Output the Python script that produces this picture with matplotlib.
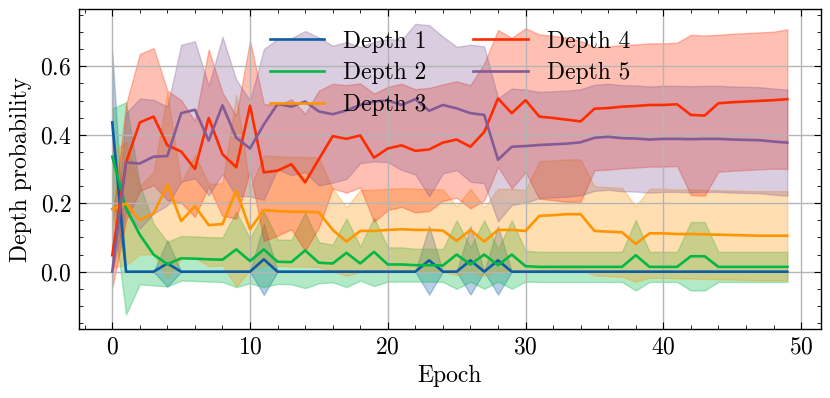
import matplotlib
matplotlib.use('Agg')
import matplotlib.pyplot as plt
import numpy as np
from matplotlib.ticker import MultipleLocator, AutoMinorLocator

epochs = list(range(50))
labels = ["Depth 1", "Depth 2", "Depth 3", "Depth 4", "Depth 5"]
colors = ["#0C5DA5", "#00B945", "#FF9500", "#FF2C00", "#845B97"]

depth1_mean = [0.436, 0, 0, 0, 0.024, 0, 0, 0, 0, 0,
               0, 0.036, 0, 0, 0, 0, 0, 0, 0, 0,
               0, 0, 0, 0.033, 0, 0, 0.033, 0, 0.033, 0,
               0, 0, 0, 0, 0, 0, 0, 0, 0, 0,
               0, 0, 0, 0, 0, 0, 0, 0, 0, 0]
depth1_std = [0.207, 0, 0, 0, 0.068, 0, 0, 0, 0, 0,
              0, 0.104, 0, 0, 0, 0, 0, 0, 0, 0,
              0, 0, 0, 0.1, 0, 0, 0.1, 0, 0.1, 0,
              0, 0, 0, 0, 0, 0, 0, 0, 0, 0,
              0, 0, 0, 0, 0, 0, 0, 0, 0, 0]

depth2_mean = [0.336, 0.185, 0.108, 0.05, 0.022, 0.039, 0.038, 0.036, 0.035, 0.065,
               0.031, 0.065, 0.029, 0.028, 0.062, 0.026, 0.024, 0.055, 0.024, 0.058,
               0.021, 0.021, 0.019, 0.019, 0.018, 0.05, 0.021, 0.05, 0.019, 0.05,
               0.016, 0.014, 0.014, 0.014, 0.014, 0.014, 0.014, 0.014, 0.048, 0.014,
               0.014, 0.014, 0.045, 0.045, 0.014, 0.014, 0.014, 0.014, 0.014, 0.014]
depth2_std = [0.14, 0.31, 0.145, 0.09, 0.065, 0.065, 0.065, 0.065, 0.065, 0.11,
              0.065, 0.11, 0.065, 0.065, 0.11, 0.06, 0.055, 0.1, 0.05, 0.1,
              0.05, 0.05, 0.048, 0.048, 0.048, 0.1, 0.05, 0.1, 0.048, 0.1,
              0.045, 0.044, 0.044, 0.044, 0.044, 0.044, 0.044, 0.044, 0.103, 0.044,
              0.044, 0.044, 0.1, 0.1, 0.044, 0.044, 0.044, 0.044, 0.044, 0.044]

depth3_mean = [0.183, 0.199, 0.151, 0.170, 0.254, 0.148, 0.191, 0.136, 0.139, 0.237,
               0.124, 0.180, 0.177, 0.175, 0.175, 0.173, 0.122, 0.088, 0.119, 0.119,
               0.122, 0.124, 0.122, 0.122, 0.120, 0.090, 0.122, 0.088, 0.122, 0.122,
               0.119, 0.163, 0.165, 0.168, 0.168, 0.119, 0.117, 0.115, 0.081, 0.112,
               0.112, 0.110, 0.110, 0.109, 0.108, 0.107, 0.106, 0.105, 0.105, 0.105]
depth3_std = [0.17, 0.18, 0.1, 0.12, 0.27, 0.11, 0.15, 0.12, 0.12, 0.28,
              0.12, 0.16, 0.16, 0.16, 0.16, 0.16, 0.12, 0.1, 0.12, 0.12,
              0.12, 0.12, 0.12, 0.12, 0.12, 0.1, 0.12, 0.1, 0.12, 0.12,
              0.12, 0.16, 0.16, 0.16, 0.16, 0.13, 0.13, 0.13, 0.11, 0.13,
              0.13, 0.13, 0.13, 0.13, 0.13, 0.13, 0.13, 0.13, 0.13, 0.13]

depth4_mean = [0.048, 0.319, 0.436, 0.453, 0.369, 0.351, 0.300, 0.449, 0.343, 0.305,
               0.485, 0.290, 0.295, 0.314, 0.261, 0.329, 0.396, 0.388, 0.398, 0.333,
               0.360, 0.369, 0.353, 0.357, 0.377, 0.386, 0.365, 0.408, 0.506, 0.463,
               0.501, 0.453, 0.449, 0.444, 0.439, 0.476, 0.478, 0.482, 0.484, 0.487,
               0.487, 0.489, 0.458, 0.456, 0.492, 0.495, 0.497, 0.499, 0.501, 0.504]
depth4_std = [0.096, 0.17, 0.2, 0.2, 0.16, 0.15, 0.14, 0.2, 0.18, 0.15,
              0.19, 0.2, 0.19, 0.19, 0.2, 0.2, 0.153, 0.157, 0.152, 0.187,
              0.18, 0.18, 0.18, 0.18, 0.17, 0.17, 0.18, 0.2, 0.2, 0.22,
              0.21, 0.24, 0.24, 0.24, 0.235, 0.18, 0.18, 0.18, 0.18, 0.18,
              0.18, 0.18, 0.234, 0.234, 0.2, 0.2, 0.2, 0.2, 0.2, 0.204]

depth5_mean = [0.0, 0.319, 0.316, 0.336, 0.338, 0.463, 0.473, 0.383, 0.486, 0.391,
               0.360, 0.430, 0.490, 0.482, 0.497, 0.468, 0.460, 0.471, 0.487, 0.497,
               0.500, 0.487, 0.504, 0.470, 0.487, 0.477, 0.463, 0.458, 0.327, 0.365,
               0.367, 0.370, 0.372, 0.374, 0.378, 0.391, 0.394, 0.390, 0.389, 0.386,
               0.388, 0.388, 0.387, 0.388, 0.388, 0.386, 0.385, 0.384, 0.380, 0.377]
depth5_std = [0.0, 0.144, 0.19, 0.166, 0.144, 0.2, 0.2, 0.16, 0.2, 0.17,
              0.14, 0.22, 0.19, 0.2, 0.206, 0.216, 0.2, 0.2, 0.17, 0.175,
              0.18, 0.19, 0.22, 0.25, 0.2, 0.18, 0.2, 0.2, 0.18, 0.17,
              0.165, 0.155, 0.155, 0.155, 0.155, 0.155, 0.155, 0.155, 0.155, 0.155,
              0.155, 0.155, 0.155, 0.155, 0.155, 0.155, 0.155, 0.155, 0.155, 0.155]

means = [depth1_mean, depth2_mean, depth3_mean, depth4_mean, depth5_mean]
stds = [depth1_std, depth2_std, depth3_std, depth4_std, depth5_std]

FS = 17

plt.rcParams.update({
    'font.family': 'serif',
    'font.serif': ['cmr10', 'DejaVu Serif'],
    'mathtext.fontset': 'cm',
    'axes.formatter.use_mathtext': True,
    'axes.unicode_minus': False,
    'font.size': FS,
    'xtick.direction': 'in', 'ytick.direction': 'in',
    'xtick.top': True, 'ytick.right': True,
    'xtick.major.size': 5, 'ytick.major.size': 5,
    'xtick.minor.size': 2.8, 'ytick.minor.size': 2.8,
    'xtick.major.width': 0.8, 'ytick.major.width': 0.8,
    'xtick.minor.width': 0.6, 'ytick.minor.width': 0.6,
    'xtick.major.pad': 5, 'ytick.major.pad': 5,
    'axes.linewidth': 1.0,
})

fig = plt.figure(figsize=(8.3, 3.98), dpi=100)
ax = fig.add_axes([0.0946, 0.1734, 0.8946, 0.8032])

x = np.array(epochs)
for m, s, c, lab in zip(means, stds, colors, labels):
    m = np.array(m, dtype=float)
    s = np.array(s, dtype=float)
    ax.plot(x, m, color=c, lw=1.9, label=lab)
    ax.fill_between(x, m - s, m + s, color=c, alpha=0.3)

ax.xaxis.set_major_locator(MultipleLocator(10))
ax.yaxis.set_major_locator(MultipleLocator(0.2))
ax.xaxis.set_minor_locator(AutoMinorLocator(5))
ax.yaxis.set_minor_locator(AutoMinorLocator(4))
ax.grid(True, which='major', color='#b5b5b5', lw=1.0)

ax.set_xlabel("Epoch", labelpad=5)
ax.set_ylabel("Depth probability", labelpad=6)
ax.legend(loc='upper center', ncol=2, frameon=False, handlelength=2.3,
          columnspacing=2.0, handletextpad=0.8, fontsize=FS,
          borderaxespad=0.5, labelspacing=0.4)

fig.savefig("out.png", dpi=100)
